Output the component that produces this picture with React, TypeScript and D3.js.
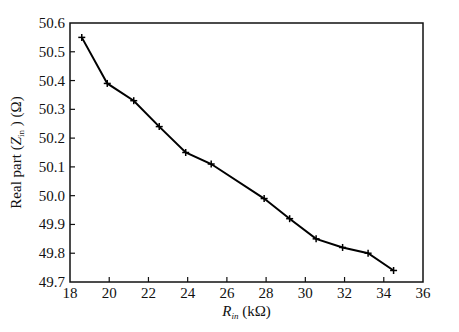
import * as d3 from "d3";
import React from "react";

// R_in (kOhm) vs real part of Z_in (Ohm)
const rin = [18.6, 19.9, 21.25, 22.55, 23.9, 25.2, 27.9, 29.2, 30.55, 31.9, 33.2, 34.5];
const realZ = [50.55, 50.39, 50.33, 50.24, 50.15, 50.11, 49.99, 49.92, 49.85, 49.82, 49.8, 49.74];
const xTicks = [18, 20, 22, 24, 26, 28, 30, 32, 34, 36];
const yTicks = [49.7, 49.8, 49.9, 50.0, 50.1, 50.2, 50.3, 50.4, 50.5, 50.6];

const W = 459;
const H = 332;
const m = { left: 70, right: 36, top: 23, bottom: 50 };
const font = "'Liberation Serif', 'Times New Roman', serif";

export default function App() {
  const x = d3.scaleLinear().domain([18, 36]).range([m.left, W - m.right]);
  const y = d3.scaleLinear().domain([49.7, 50.6]).range([H - m.bottom, m.top]);
  const pts = rin.map((r, i) => [r, realZ[i]] as [number, number]);
  const line = d3
    .line<[number, number]>()
    .x((d) => x(d[0]))
    .y((d) => y(d[1]));

  const x0 = m.left;
  const x1 = W - m.right;
  const y0 = H - m.bottom;
  const y1 = m.top;

  return (
    <svg width={W} height={H} style={{ position: "absolute", left: 0, top: 0, background: "#fff" }}>
      <rect x={x0} y={y1} width={x1 - x0} height={y0 - y1} fill="none" stroke="#111" strokeWidth={1.5} />
      {xTicks.map((t) => (
        <g key={"x" + t}>
          {t > 18 && t < 36 && <line x1={x(t)} x2={x(t)} y1={y0} y2={y0 - 5} stroke="#111" strokeWidth={1.2} />}
          <text x={x(t)} y={y0 + 16} textAnchor="middle" fontFamily={font} fontSize={15} fill="#111">
            {t}
          </text>
        </g>
      ))}
      {yTicks.map((t) => (
        <g key={"y" + t}>
          {t > 49.7 && t < 50.6 && <line x1={x0} x2={x0 + 5} y1={y(t)} y2={y(t)} stroke="#111" strokeWidth={1.2} />}
          <text x={x0 - 5} y={y(t) + 5} textAnchor="end" fontFamily={font} fontSize={15} fill="#111">
            {t.toFixed(1)}
          </text>
        </g>
      ))}
      <path d={line(pts) ?? ""} fill="none" stroke="#000" strokeWidth={2} />
      {pts.map((p, i) => (
        <g key={"p" + i} stroke="#000" strokeWidth={1.5}>
          <line x1={x(p[0]) - 3.5} x2={x(p[0]) + 3.5} y1={y(p[1])} y2={y(p[1])} />
          <line x1={x(p[0])} x2={x(p[0])} y1={y(p[1]) - 3.5} y2={y(p[1]) + 3.5} />
        </g>
      ))}
      <text x={(x0 + x1) / 2} y={H - 16} textAnchor="middle" fontFamily={font} fontSize={15} fill="#111">
        <tspan fontStyle="italic">R</tspan>
        <tspan fontSize={9} dy={3} fontStyle="italic">in</tspan>
        <tspan dy={-3}> (kΩ)</tspan>
      </text>
      <text
        transform={`translate(21, ${(y0 + y1) / 2}) rotate(-90)`}
        textAnchor="middle"
        fontFamily={font}
        fontSize={15}
        fill="#111"
      >
        <tspan>Real part (</tspan>
        <tspan fontStyle="italic">Z</tspan>
        <tspan fontSize={9} dy={3}>in</tspan>
        <tspan dy={-3}> ) (Ω)</tspan>
      </text>
    </svg>
  );
}
